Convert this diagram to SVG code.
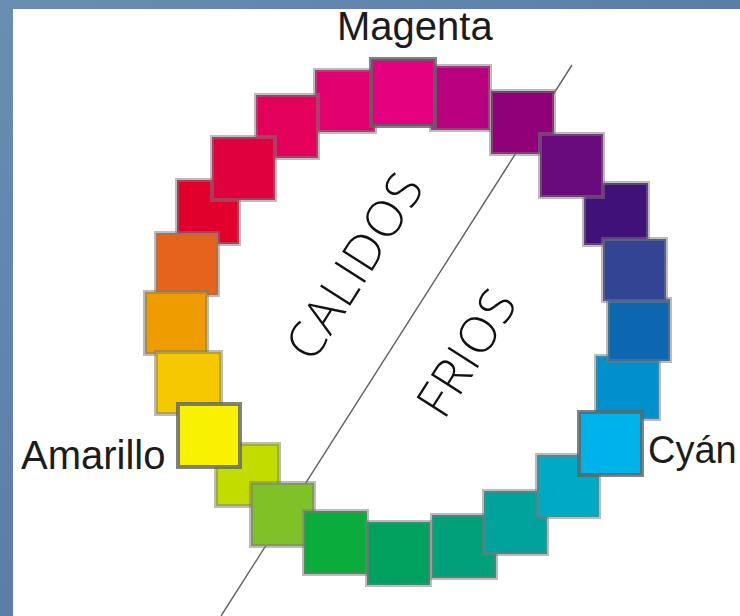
<svg xmlns="http://www.w3.org/2000/svg" width="740" height="616" viewBox="0 0 740 616">
<style>
.sq{stroke:#7a7a7a;stroke-opacity:.5;stroke-width:4}
.pr{stroke:#5e6468;stroke-opacity:.8;stroke-width:4}
.lbl{font-family:"Liberation Sans",Arial,sans-serif;font-size:40px;fill:#1c1c1c}
.big{font-family:"Open Sans","Lato","Liberation Sans",sans-serif;font-weight:300;font-size:50px;letter-spacing:1.5px;fill:#111}
</style>
<defs>
<linearGradient id="bg" x1="0" y1="0" x2="1" y2="1">
<stop offset="0" stop-color="#6a8db3"/>
<stop offset="0.5" stop-color="#5a7ea8"/>
<stop offset="1" stop-color="#4e719b"/>
</linearGradient>
</defs>
<rect x="0" y="0" width="740" height="616" fill="url(#bg)"/>
<rect x="13" y="9" width="727" height="607" fill="#ffffff"/>
<g id="divider">
<line x1="572" y1="65" x2="221" y2="616" stroke="#606060" stroke-width="1.4"/>
</g>
<g id="wheel">
<g id="sq-pink"><rect class="sq" x="315" y="70" width="60" height="62" fill="#e1006e"/></g>
<g id="sq-red"><rect class="sq" x="177" y="180" width="62" height="64" fill="#e0002b"/></g>
<g id="sq-yellowgreen"><rect class="sq" x="216" y="444" width="63" height="62" fill="#c2dc00"/></g>
<g id="sq-lightblue"><rect class="sq" x="596" y="356" width="63" height="63" fill="#0090ce"/></g>
<g id="sq-indigo"><rect class="sq" x="584" y="183" width="64" height="62" fill="#3f1179"/></g>
<g id="sq-magentapurple"><rect class="sq" x="431" y="66" width="59" height="64" fill="#b9007f"/></g>
<g id="sq-greenteal"><rect class="sq" x="432" y="515" width="64" height="63" fill="#00a07a"/></g>
<g id="sq-rosered"><rect class="sq" x="256" y="95" width="62" height="63" fill="#e2005a"/></g>
<g id="sq-orange"><rect class="sq" x="156" y="233" width="62" height="62" fill="#e6631b"/></g>
<g id="sq-lightgreen"><rect class="sq" x="251" y="483" width="63" height="63" fill="#80c127"/></g>
<g id="sq-mediumblue"><rect class="sq" x="608" y="299" width="62" height="62" fill="#0d67b0"/></g>
<g id="sq-purple"><rect class="sq" x="491" y="91" width="63" height="63" fill="#8f0079"/></g>
<g id="sq-crimson"><rect class="sq" x="212" y="137" width="63" height="63" fill="#e0003e"/></g>
<g id="sq-amber"><rect class="sq" x="145" y="292" width="62" height="62" fill="#ef9c00"/></g>
<g id="sq-green"><rect class="sq" x="304" y="511" width="63" height="63" fill="#0aad3b"/></g>
<g id="sq-teal"><rect class="sq" x="484" y="491" width="63" height="63" fill="#00a39c"/></g>
<g id="sq-blue"><rect class="sq" x="603" y="239" width="63" height="62" fill="#334495"/></g>
<g id="sq-violet"><rect class="sq" x="540" y="134" width="63" height="63" fill="#680a79"/></g>
<g id="sq-gold"><rect class="sq" x="156" y="352" width="65" height="62" fill="#f5c800"/></g>
<g id="sq-green2"><rect class="sq" x="367" y="522" width="63" height="63" fill="#00a05e"/></g>
<g id="sq-tealblue"><rect class="sq" x="537" y="455" width="62" height="62" fill="#00aac5"/></g>
<g id="sq-yellow"><rect class="pr" x="178" y="404" width="62" height="63" fill="#f8f200"/></g>
<g id="sq-cyan"><rect class="pr" x="579" y="412" width="63" height="63" fill="#00b2ea"/></g>
<g id="sq-magenta"><rect class="pr" x="371" y="59" width="64" height="67" fill="#e4007f"/></g>
</g>
<g id="labels">
<text class="lbl" x="337" y="40">Magenta</text>
<text class="lbl" x="21" y="469">Amarillo</text>
<text class="lbl" x="648" y="463" style="font-size:38px">Cyán</text>
<text class="big" transform="translate(313,364) rotate(-57.5)">CALIDOS</text>
<text class="big" transform="translate(444,421) rotate(-57.5)">FRIOS</text>
</g>
</svg>
